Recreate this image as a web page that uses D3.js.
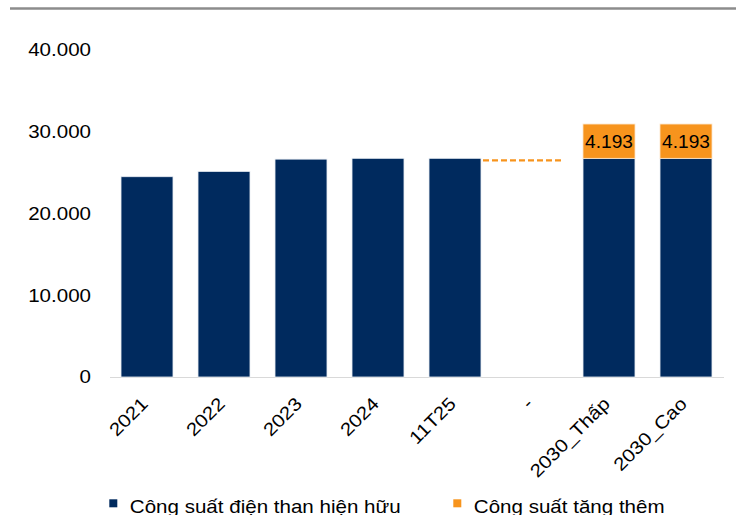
<!DOCTYPE html>
<html><head><meta charset="utf-8">
<script src="https://cdn.jsdelivr.net/npm/d3@7"></script>
<style>body{margin:0;background:#fff}svg{display:block;font-family:"Liberation Sans",Arial,sans-serif}</style>
</head><body><svg id="c" width="736" height="515"></svg>
<script>
const categories = ["2021","2022","2023","2024","11T25","-","2030_Thấp","2030_Cao"];
const existing = [24500, 25150, 26650, 26750, 26750, null, 26750, 26750];
const added = [null, null, null, null, null, null, 4193, 4193];
const dashedLevel = 26500;
const yTicks = [0, 10000, 20000, 30000, 40000];
const legendLabels = ["Công suất điện than hiện hữu", "Công suất tăng thêm"];
const colors = ["#002A5E", "#F7941D"];

const FS = 18.2, SX = 1.13;
const svg = d3.select("#c");
const x = d3.scaleBand().domain(categories).range([108.5, 724.5]).paddingInner(0.325).paddingOuter(0.1625);
const y = d3.scaleLinear().domain([0, 40000]).range([377, 50]);
const fmt = v => d3.format(",")(v).replace(/,/g, ".");

// top rule
svg.append("line").attr("x1", 10).attr("x2", 736).attr("y1", 8.5).attr("y2", 8.5)
  .attr("stroke", "#8c8c8c").attr("stroke-width", 2.5);

// y axis labels
const ya = svg.append("g").attr("transform", "translate(91,0)")
  .call(d3.axisLeft(y).tickValues(yTicks).tickFormat(fmt).tickSize(0).tickPadding(0));
ya.select(".domain").remove();
ya.selectAll("text").attr("font-size", FS).attr("fill", "#000")
  .attr("font-family", "Liberation Sans, Arial, sans-serif").attr("transform", `scale(${SX},1)`);

// baseline
svg.append("line").attr("x1", 110).attr("x2", 724).attr("y1", y(0)+0.5).attr("y2", y(0)+0.5)
  .attr("stroke", "#d9d9d9").attr("stroke-width", 1);

// existing bars
svg.append("g").selectAll("rect").data(categories.map((c,i)=>({c, v: existing[i]})).filter(d=>d.v!=null))
  .join("rect").attr("x", d=>x(d.c)).attr("width", x.bandwidth())
  .attr("y", d=>y(d.v)).attr("height", d=>y(0)-y(d.v))
  .attr("fill", colors[0]).attr("stroke", "#e8edf3").attr("stroke-width", 0.8);

// added bars
const addData = categories.map((c,i)=>({c, base: existing[i], v: added[i]})).filter(d=>d.v!=null);
svg.append("g").selectAll("rect").data(addData)
  .join("rect").attr("x", d=>x(d.c)).attr("width", x.bandwidth())
  .attr("y", d=>y(d.base+d.v)).attr("height", d=>y(d.base)-y(d.base+d.v))
  .attr("fill", colors[1]).attr("stroke", "#fde3c4").attr("stroke-width", 0.8);
svg.append("g").selectAll("g").data(addData).join("g")
  .attr("transform", d=>`translate(${x(d.c)+x.bandwidth()/2},${y(d.base+d.v/2)}) scale(1.05,1)`)
  .append("text").attr("dy", "0.35em").attr("text-anchor", "middle").attr("font-size", FS).attr("fill", "#000")
  .text(d=>fmt(d.v));

// dashed line
svg.append("line").attr("x1", x("11T25")+x.bandwidth()+2).attr("x2", x("-")+x.bandwidth()+4)
  .attr("y1", y(dashedLevel)).attr("y2", y(dashedLevel))
  .attr("stroke", colors[1]).attr("stroke-width", 2.2).attr("stroke-dasharray", "6,3");

// x labels
const xa = svg.append("g").attr("transform", `translate(0,${y(0)})`)
  .call(d3.axisBottom(x).tickSize(0).tickPadding(0));
xa.select(".domain").remove();
xa.selectAll("text").attr("font-size", FS).attr("fill", "#000")
  .attr("text-anchor", "end").attr("dy", null).attr("y", 0)
  .attr("transform", `translate(2,28) rotate(-45) scale(${SX},1)`);

// legend
const lg = svg.append("g");
const lx = [109.3, 453.3];
legendLabels.forEach((t,i)=>{
  lg.append("rect").attr("x", lx[i]).attr("y", 499.3).attr("width", 8).attr("height", 8).attr("fill", colors[i]);
  lg.append("text").attr("transform", `translate(${lx[i]+20.5},512.5) scale(${SX},1)`)
    .attr("font-size", FS).attr("fill", "#000").text(t);
});
</script></body></html>
